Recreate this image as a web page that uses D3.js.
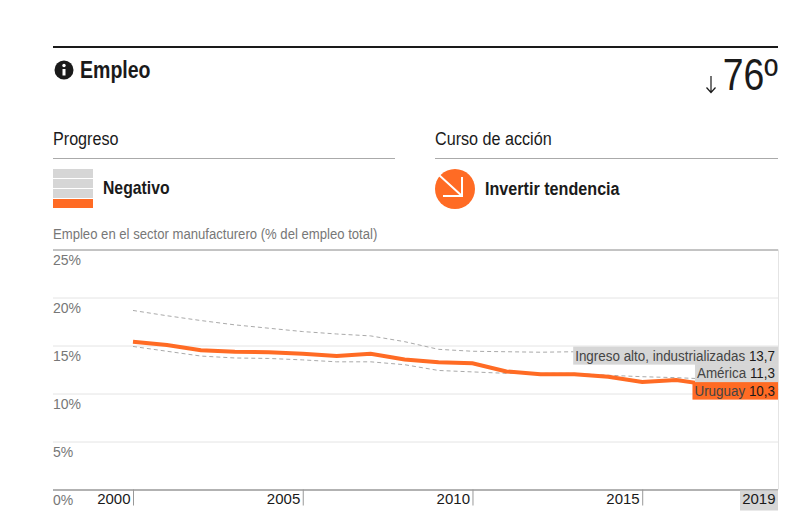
<!DOCTYPE html>
<html>
<head>
<meta charset="utf-8">
<script src="https://cdn.jsdelivr.net/npm/d3@7"></script>
<style>
    body { margin: 0; background: #fff; }
    text { font-family: "Liberation Sans", sans-serif; fill: #1a1a1a; }
    .tick-y text { font-size: 14px; fill: #777; }
    .tick-x text { font-size: 15px; fill: #1a1a1a; }
</style>
</head>
<body>
<div id="chart"></div>
<script>
const years = d3.range(2000, 2020);
const uruguay = [15.4, 15.05, 14.5, 14.35, 14.3, 14.15, 13.9, 14.15, 13.55, 13.25, 13.15, 12.3, 12.0, 12.0, 11.75, 11.2, 11.4, 10.9, 10.6, 10.3];
const america = [14.9, 14.4, 13.9, 13.7, 13.65, 13.5, 13.3, 13.3, 13.0, 12.4, 12.25, 12.1, 12.1, 12.1, 11.9, 11.75, 11.65, 11.5, 11.4, 11.3];
const ingresoAlto = [18.65, 18.1, 17.6, 17.15, 16.8, 16.45, 16.2, 16.0, 15.4, 14.6, 14.4, 14.35, 14.3, 14.35, 14.2, 14.1, 14.0, 13.9, 13.8, 13.7];
const yTicks = [0, 5, 10, 15, 20, 25];
const xTicks = [2000, 2005, 2010, 2015, 2019];
const endLabels = [
    { name: "Uruguay", value: 10.3, values: uruguay },
    { name: "América", value: 11.3, values: america },
    { name: "Ingreso alto, industrializadas", value: 13.7, values: ingresoAlto }
];

const ORANGE = "#ff6b24";
const GREY = "#d6d6d6";

const width = 803, height = 525;
const left = 53, right = 778;

const svg = d3.select("#chart").append("svg")
    .attr("width", width)
    .attr("height", height)
    .style("display", "block");

const x = d3.scaleLinear().domain([2000, 2019]).range([133, 778]);
const y = d3.scaleLinear().domain([0, 25]).range([489.5, 249.5]);

// no condensed font is installed, so squeeze the regular one horizontally
function label(px, py, str, size, k, bold) {
    return svg.append("text")
        .attr("transform", `translate(${px},${py}) scale(${k},1)`)
        .attr("font-size", size)
        .attr("font-weight", bold ? 700 : 400)
        .text(str);
}

// header
svg.append("rect").attr("x", left).attr("y", 46).attr("width", right - left).attr("height", 2).attr("fill", "#1a1a1a");

svg.append("circle").attr("cx", 64).attr("cy", 70).attr("r", 9.5).attr("fill", "#1a1a1a");
svg.append("rect").attr("x", 62.5).attr("y", 69).attr("width", 3).attr("height", 6.5).attr("fill", "#fff");
svg.append("circle").attr("cx", 64).attr("cy", 65.5).attr("r", 1.7).attr("fill", "#fff");

label(80, 78, "Empleo", 23, 0.85, true);
label(778, 90, "76º", 44, 0.85).attr("text-anchor", "end");
svg.append("path").attr("d", "M711,76V92.5M706.5,87.5L711,92.5L715.5,87.5")
    .attr("fill", "none").attr("stroke", "#1a1a1a").attr("stroke-width", 1.2);

// progress and action blocks
label(53, 145, "Progreso", 19, 0.85);
svg.append("line").attr("x1", 53).attr("x2", 395).attr("y1", 158.5).attr("y2", 158.5).attr("stroke", "#aaa");
label(435, 145, "Curso de acción", 19, 0.85);
svg.append("line").attr("x1", 435).attr("x2", 778).attr("y1", 158.5).attr("y2", 158.5).attr("stroke", "#aaa");

[169, 179, 189, 199].forEach((top, i) => {
    svg.append("rect").attr("x", 53).attr("y", top).attr("width", 40).attr("height", 9)
        .attr("fill", i === 3 ? ORANGE : GREY);
});
label(103, 194, "Negativo", 19, 0.83, true);

svg.append("circle").attr("cx", 455).attr("cy", 189).attr("r", 20).attr("fill", ORANGE);
svg.append("path").attr("d", "M439,175L462,196M443,196H462V177")
    .attr("fill", "none").attr("stroke", "#fff").attr("stroke-width", 2);
label(485, 195, "Invertir tendencia", 19, 0.85, true);

label(53, 239, "Empleo en el sector manufacturero (% del empleo total)", 15, 0.875).style("fill", "#777");

// y axis: gridlines with the labels hanging under them
const yAxis = svg.append("g").attr("class", "tick-y")
    .attr("transform", `translate(${right},0)`)
    .call(d3.axisLeft(y).tickValues(yTicks).tickSize(right - left).tickFormat(d => d + "%"));
yAxis.select(".domain").remove();
yAxis.selectAll("line")
    .attr("stroke", d => d === 0 ? "#999" : d === 25 ? "#888" : "#e4e4e4")
    .attr("stroke-width", d => d === 0 ? 1.5 : 1);
yAxis.selectAll("text").attr("x", -(right - left)).attr("dy", 15).attr("text-anchor", "start");

svg.append("line").attr("x1", right + 0.5).attr("x2", right + 0.5).attr("y1", y(25)).attr("y2", y(0))
    .attr("stroke", "#e4e4e4");

// x axis
svg.append("rect").attr("x", 740).attr("y", y(0) + 1).attr("width", 38).attr("height", 20).attr("fill", GREY);
const xAxis = svg.append("g").attr("class", "tick-x")
    .attr("transform", `translate(0,${y(0)})`)
    .call(d3.axisBottom(x).tickValues(xTicks).tickSize(16).tickFormat(d3.format("d")));
xAxis.select(".domain").remove();
xAxis.selectAll("line").attr("stroke", d => d === 2019 ? "none" : "#999");
xAxis.selectAll("text").attr("y", 4).attr("dy", "0.71em").attr("text-anchor", "end").attr("dx", -3);

// lines
const line = d3.line().x((d, i) => x(years[i])).y(d => y(d));
[ingresoAlto, america].forEach(values => {
    svg.append("path").datum(values).attr("d", line)
        .attr("fill", "none").attr("stroke", "#aaa").attr("stroke-width", 1).attr("stroke-dasharray", "4 3");
});
svg.append("path").datum(uruguay).attr("d", line)
    .attr("fill", "none").attr("stroke", ORANGE).attr("stroke-width", 4);

// end labels, stacked upwards from the lowest value so they do not overlap
let prevCentre = Infinity;
endLabels.forEach(d => {
    const centre = Math.min(y(d.value), prevCentre - 17.5);
    prevCentre = centre;
    const isMain = d.values === uruguay;
    const k = 0.895;
    const g = svg.append("g");
    const box = g.append("rect").attr("fill", isMain ? ORANGE : GREY);
    const txt = g.append("text")
        .attr("transform", `translate(${right - 3},${centre + 5}) scale(${k},1)`)
        .attr("text-anchor", "end").attr("font-size", 15);
    txt.append("tspan").style("fill", "#444").text(d.name + " ");
    txt.append("tspan").style("fill", "#1a1a1a").text(d.value.toFixed(1).replace(".", ","));
    const w = txt.node().getComputedTextLength() * k + 5;
    box.attr("x", right - w).attr("y", centre - 9).attr("width", w).attr("height", 18);
});
</script>
</body>
</html>
